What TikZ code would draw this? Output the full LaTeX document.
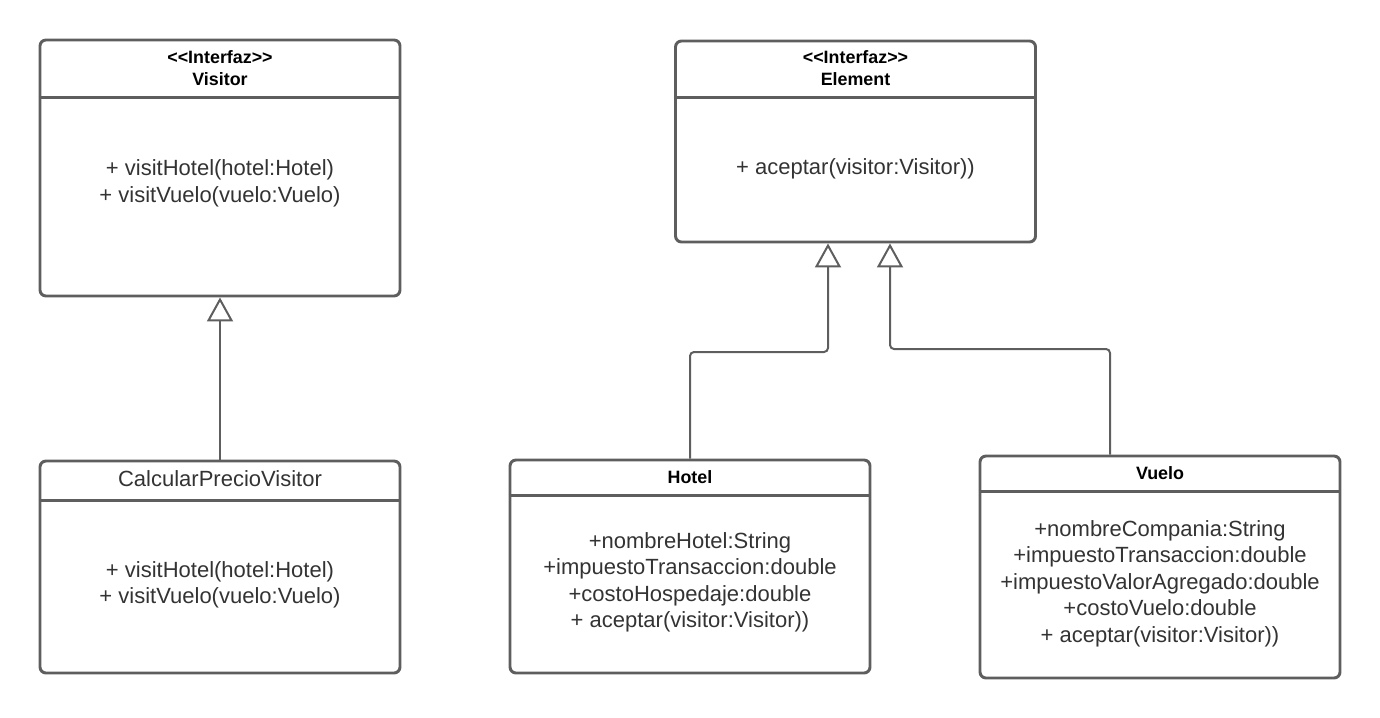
\documentclass[tikz,border=0pt]{standalone}
\usepackage{fontspec}
\setmainfont{Liberation Sans}
\usetikzlibrary{arrows.meta}
\definecolor{linegray}{RGB}{94,94,94}
\definecolor{textgray}{RGB}{51,51,51}
\tikzset{
  classbox/.style={draw=linegray, line width=2.2pt, rounded corners=4.5pt, minimum width=270pt, inner sep=0pt},
  divider/.style={draw=linegray, line width=2.2pt},
  titletext/.style={font=\fontsize{13.4}{16.5}\selectfont\bfseries, text=black, align=center, inner sep=0pt},
  bodytext/.style={font=\fontsize{16.5}{19.9}\selectfont, text=textgray, align=center, inner sep=0pt},
  inherit/.style={draw=linegray, line width=1.5pt, -{Triangle[open, width=19.5pt, length=18pt]}},
}
\newcommand{\interfaz}{<\kern0pt<Interfaz>\kern0pt>}
\begin{document}
\begin{tikzpicture}[x=0.75pt, y=-0.75pt]
  \useasboundingbox (0,0) rectangle (1380,717);

  % Boxes
  \node[classbox, minimum height=192pt] (vis) at (220,168) {};
  \node[classbox, minimum height=150.75pt] (elem) at (855.5,141.5) {};
  \node[classbox, minimum height=159pt] (calc) at (220,567) {};
  \node[classbox, minimum height=159.75pt] (hotel) at (690,566.5) {};
  \node[classbox, minimum height=166.5pt] (vuelo) at (1160,567) {};

  % Header lines
  \draw[divider] (vis.north west) ++(0,59) -- ++(360,0);
  \draw[divider] (elem.north west) ++(0,58) -- ++(361,0);
  \draw[divider] (calc.north west) ++(0,41) -- ++(360,0);
  \draw[divider] (hotel.north west) ++(0,37) -- ++(360,0);
  \draw[divider] (vuelo.north west) ++(0,37) -- ++(360,0);

  % Titles
  \node[titletext] (vistitle) at (220,68.5) {\interfaz\\Visitor};
  \node[titletext] (elemtitle) at (855.5,68) {\interfaz\\Element};
  \node[bodytext, text=textgray] (calctitle) at (220,479) {CalcularPrecioVisitor};
  \node[titletext] (hoteltitle) at (690,477) {Hotel};
  \node[titletext] (vuelotitle) at (1160,473) {Vuelo};

  % Members
  \node[bodytext] (visbody) at (220,183.5) {+ visitHotel(hotel:Hotel)\\+ visitVuelo(vuelo:Vuelo)};
  \node[bodytext] (elembody) at (855.5,169) {+ aceptar(visitor:Visitor))};
  \node[bodytext] (calcbody) at (220,585) {+ visitHotel(hotel:Hotel)\\+ visitVuelo(vuelo:Vuelo)};
  \node[bodytext] (hotelbody) at (690,582.5) {+nombreHotel:String\\+impuestoTransaccion:double\\+costoHospedaje:double\\+ aceptar(visitor:Visitor))};
  \node[bodytext] (vuelobody) at (1160,583.5) {+nombreCompania:String\\+impuestoTransaccion:double\\+impuestoValorAgregado:double\\+costoVuelo:double\\+ aceptar(visitor:Visitor))};

  % Inheritance
  \coordinate (hotelbend) at (828,352);
  \coordinate (vuelobend) at (890,349);
  \draw[inherit] (calc.north) -- (vis.south);
  \draw[inherit, rounded corners=3pt] (hotel.north) |- (hotelbend) -- (elem.south -| hotelbend);
  \draw[inherit, rounded corners=3pt] ([xshift=-37.5pt]vuelo.north) |- (vuelobend) -- (elem.south -| vuelobend);
\end{tikzpicture}
\end{document}
